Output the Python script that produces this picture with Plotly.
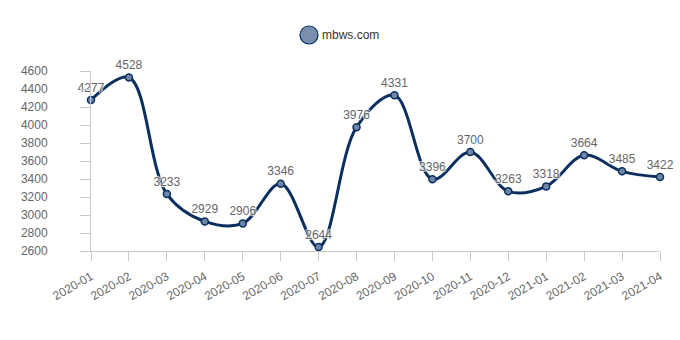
import plotly.graph_objects as go

months = ["2020-01", "2020-02", "2020-03", "2020-04", "2020-05", "2020-06", "2020-07", "2020-08",
          "2020-09", "2020-10", "2020-11", "2020-12", "2021-01", "2021-02", "2021-03", "2021-04"]
values = [4277, 4528, 3233, 2929, 2906, 3346, 2644, 3976, 4331, 3396, 3700, 3263, 3318, 3664, 3485, 3422]
series_name = "mbws.com"
y_ticks = [2600, 2800, 3000, 3200, 3400, 3600, 3800, 4000, 4200, 4400, 4600]

FONT = "Liberation Sans, Arial, sans-serif"
LINE_COLOR = "#0b2f5e"
MARKER_FILL = "#6f86a8"
AXIS_COLOR = "#c8c8c8"

L, R, T, B = 91, 20, 71, 89
W, H = 680, 340
PW = W - L - R
PH = H - T - B

halo = ", ".join(f"{dx}px {dy}px 1px rgba(255,255,255,0.8)"
                 for dx, dy in [(1, 1), (-1, -1), (1, -1), (-1, 1)])

fig = go.Figure()
fig.add_trace(go.Scatter(
    x=list(range(len(months))), y=values, mode="lines+markers+text",
    name=series_name,
    line=dict(color=LINE_COLOR, width=3, shape="spline", smoothing=1.0),
    marker=dict(size=7, color=MARKER_FILL, line=dict(color=LINE_COLOR, width=1.5)),
    text=[str(v) for v in values], textposition="top center",
    textfont=dict(family=FONT, size=12, color="#666666", shadow=halo),
    cliponaxis=False, showlegend=False,
))

# legend drawn manually (circle + text), centered on the container
cx, cy = 309, 35
fig.add_shape(type="circle", xref="paper", yref="paper",
              xsizemode="pixel", ysizemode="pixel",
              xanchor=(cx - L) / PW, yanchor=(H - B - cy) / PH,
              x0=-9, x1=9, y0=-9, y1=9,
              fillcolor="#7a8eae", line=dict(color=LINE_COLOR, width=1.2))
fig.add_annotation(text=series_name, xref="paper", yref="paper",
                   x=(320 - L) / PW, y=(H - B - cy) / PH, xanchor="left", yanchor="middle",
                   showarrow=False, font=dict(family=FONT, size=12, color="#333333"))

fig.update_layout(
    width=W, height=H, margin=dict(l=L, r=R, t=T, b=B),
    paper_bgcolor="white", plot_bgcolor="white",
    font=dict(family=FONT, size=12, color="#666666"),
    xaxis=dict(range=[0, len(months) - 1], tickvals=list(range(len(months))), ticktext=months,
               tickangle=-30, showgrid=False, zeroline=False,
               showline=True, linecolor=AXIS_COLOR, linewidth=1,
               ticks="outside", ticklen=9, tickcolor=AXIS_COLOR, ticklabelstandoff=4,
               tickfont=dict(family=FONT, size=12, color="#666666")),
    yaxis=dict(range=[2600, 4600], tickvals=y_ticks, showgrid=False, zeroline=False,
               showline=True, linecolor=AXIS_COLOR, linewidth=1,
               ticks="outside", ticklen=10, tickcolor=AXIS_COLOR, tickwidth=1,
               ticklabelstandoff=30,
               tickfont=dict(family=FONT, size=12, color="#666666")),
)

fig.write_html("out.html")
